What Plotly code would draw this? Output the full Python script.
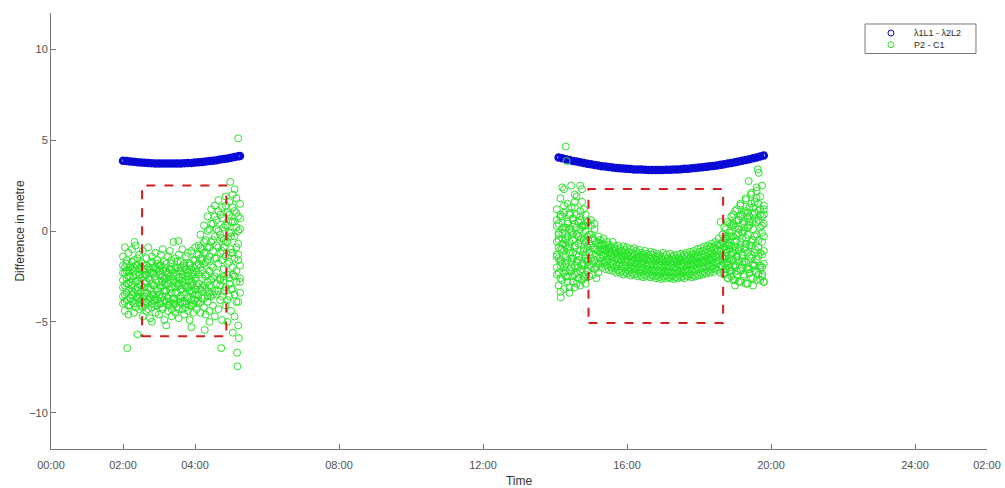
import plotly.graph_objects as go

# ---------------- data (hours since 00:00, metres) ----------------
TICK_VALS = [0, 2, 4, 8, 12, 16, 20, 24, 26]
TICK_TEXT = ["00:00", "02:00", "04:00", "08:00", "12:00", "16:00", "20:00", "24:00", "02:00"]
SERIES_NAMES = ["\u03bb1L1 - \u03bb2L2", "P2 - C1"]

# lambda1L1 - lambda2L2, first pass
BLUE_L_T = [2.0, 2.1, 2.2, 2.3, 2.4, 2.5, 2.6, 2.7, 2.8, 2.9, 3.0, 3.1, 3.2, 3.3, 3.4, 3.5, 3.6,
            3.7, 3.8, 3.9, 4.0, 4.1, 4.2, 4.3, 4.4, 4.5, 4.6, 4.7, 4.8, 4.9, 5.0, 5.1, 5.2, 5.25]
BLUE_L_V = [3.87, 3.85, 3.83, 3.81, 3.79, 3.77, 3.76, 3.74, 3.73, 3.72, 3.72, 3.71, 3.71, 3.71, 3.71,
            3.72, 3.72, 3.73, 3.74, 3.75, 3.77, 3.78, 3.80, 3.82, 3.85, 3.87, 3.90, 3.93, 3.96, 3.99,
            4.03, 4.07, 4.11, 4.13]
# second pass
BLUE_R_T = [14.1, 14.2, 14.3, 14.4, 14.5, 14.6, 14.7, 14.8, 14.9, 15.0, 15.1, 15.2, 15.3, 15.4, 15.5,
            15.6, 15.7, 15.8, 15.9, 16.0, 16.1, 16.2, 16.3, 16.4, 16.5, 16.6, 16.7, 16.8, 16.9, 17.0,
            17.1, 17.2, 17.3, 17.4, 17.5, 17.6, 17.7, 17.8, 17.9, 18.0, 18.1, 18.2, 18.3, 18.4, 18.5,
            18.6, 18.7, 18.8, 18.9, 19.0, 19.1, 19.2, 19.3, 19.4, 19.5, 19.6, 19.7, 19.8]
BLUE_R_V = [4.05, 4.00, 3.95, 3.91, 3.86, 3.82, 3.78, 3.74, 3.70, 3.67, 3.63, 3.60, 3.57, 3.55, 3.52,
            3.50, 3.47, 3.45, 3.44, 3.42, 3.41, 3.39, 3.38, 3.38, 3.37, 3.36, 3.36, 3.36, 3.36, 3.36,
            3.37, 3.37, 3.38, 3.39, 3.40, 3.42, 3.43, 3.45, 3.47, 3.49, 3.51, 3.53, 3.56, 3.58, 3.61,
            3.64, 3.68, 3.71, 3.75, 3.78, 3.82, 3.87, 3.91, 3.95, 4.00, 4.05, 4.10, 4.15]

# P2 - C1, first pass: sample times and value rows per time
GL_T = [2.00, 2.05, 2.10, 2.15, 2.20, 2.25, 2.30, 2.35, 2.40, 2.45,
        2.50, 2.55, 2.60, 2.65, 2.70, 2.75, 2.80, 2.85, 2.90, 2.95,
        3.00, 3.05, 3.10, 3.15, 3.20, 3.25, 3.30, 3.35, 3.40, 3.45,
        3.50, 3.55, 3.60, 3.65, 3.70, 3.75, 3.80, 3.85, 3.90, 3.95, 4.00, 4.05,
        4.10, 4.15, 4.20, 4.25, 4.30, 4.35, 4.40, 4.45, 4.50, 4.55,
        4.60, 4.65, 4.70, 4.75, 4.80, 4.85, 4.90, 4.95, 5.00, 5.05, 5.10, 5.15, 5.20, 5.25]
GL_A = [-1.4, -0.9, -1.8, -1.2, -2.0, -1.0, -1.6, -0.8, -1.9, -1.3,
        -1.7, -1.1, -2.1, -1.5, -0.9, -1.8, -1.4, -2.0, -1.2, -1.6,
        -1.9, -1.3, -1.0, -1.7, -2.2, -1.4, -1.1, -1.8, -0.6, -1.5,
        -2.0, -1.3, -1.7, -1.0, -1.9, -1.4, -1.2, -1.8, -1.1, -1.6, -0.9, -1.3,
        -0.8, -0.2, -1.0, 0.3, -0.5, 0.8, 0.1, 1.2, 0.4, 1.4,
        0.6, 1.7, 0.9, 1.3, 0.2, 1.9, 1.0, 1.6, 0.5, 2.0, 1.1, 1.8, 0.8, 1.5]
GL_F = [-1.9, -2.3, -1.6, -2.5, -2.0, -1.7, -2.2, -2.4, -1.5, -2.1,
        -2.0, -1.8, -2.4, -1.9, -2.6, -2.1, -1.7, -2.3, -2.0, -1.8,
        -2.2, -1.9, -2.5, -2.0, -1.8, -2.4, -2.1, -1.6, -2.3, -2.0,
        -1.7, -2.2, -2.0, -2.4, -1.8, -2.1, -2.3, -1.9, -2.5, -2.0, -1.6, -2.2,
        -1.3, -0.9, -1.6, -0.6, -1.2, 0.0, -0.9, 0.4, -0.5, 0.8,
        0.1, 1.1, -0.2, 0.7, -0.5, 1.4, 0.3, 0.9, -0.1, 1.3, 0.5, 1.0, 0.0, 0.7]
GL_B = [-2.3, -2.0, -2.6, -2.2, -2.8, -2.1, -2.5, -1.9, -2.7, -2.4,
        -2.6, -2.2, -2.9, -2.4, -2.0, -2.7, -2.3, -3.0, -2.5, -2.1,
        -2.8, -2.4, -2.2, -2.9, -2.6, -2.3, -2.7, -2.1, -2.5, -2.8,
        -2.4, -2.9, -2.2, -2.6, -2.0, -2.7, -2.5, -2.1, -2.8, -2.3, -2.6, -1.9,
        -1.8, -1.5, -2.2, -1.2, -1.7, -0.9, -1.4, -0.6, -1.1, -0.3,
        -0.8, 0.0, -1.2, -0.4, -0.9, 0.3, -0.6, -0.1, -1.0, 0.5, -0.3, 0.2, -0.7, 0.1]
GL_E = [-2.7, -3.0, -2.2, -2.9, -2.5, -3.3, -2.0, -2.8, -3.1, -2.4,
        -3.0, -2.5, -3.4, -2.8, -3.1, -2.3, -2.9, -3.5, -2.7, -3.2,
        -2.4, -3.0, -2.8, -2.6, -3.3, -2.9, -2.5, -3.1, -2.7, -3.4,
        -2.9, -2.6, -3.2, -2.8, -3.0, -2.5, -3.1, -2.7, -3.3, -2.9, -2.4, -3.0,
        -2.4, -2.0, -3.1, -1.8, -2.5, -1.6, -3.0, -1.9, -2.6, -1.5,
        -1.5, -0.9, -3.0, -1.1, -2.7, -0.6, -1.8, -2.9, -0.3, -1.2, -2.5, -0.9, -1.6, -2.8]
GL_C = [-3.1, -3.5, -2.9, -3.3, -3.7, -3.0, -3.4, -3.2, -3.6, -2.9,
        -3.3, -3.6, -3.1, -3.4, -3.8, -3.2, -3.5, -3.0, -3.7, -3.3,
        -3.5, -3.1, -3.6, -3.3, -3.0, -3.7, -3.2, -3.4, -3.8, -3.1,
        -3.4, -3.0, -3.6, -3.2, -3.5, -3.1, -3.7, -3.3, -3.0, -3.4, -3.2, -3.5,
        -2.9, -3.2, -2.6, -3.0, -2.4, -2.8, -2.2, -2.7, -2.0, -2.5,
        -2.3, -1.8, -2.6, -1.6, -2.1, -1.4, -2.4, -1.7, -1.2, -2.0, -1.5, -2.2, -1.3, -1.9]
GL_G = [-3.6, -3.9, -3.4, -4.1, -3.7, -3.5, -4.0, -3.8, -3.3, -3.7,
        -3.8, -4.2, -3.6, -3.9, -4.3, -3.7, -4.0, -3.6, -4.1, -3.8,
        -4.0, -3.7, -4.2, -3.8, -3.6, -4.1, -3.9, -4.3, -3.7, -4.0,
        -3.8, -4.3, -3.7, -4.0, -3.9, -4.2, -3.6, -4.1, -3.8, -4.0, -3.5, -3.9,
        -3.5, -3.9, -3.3, -3.7, -3.2, -3.6, -3.4, -3.1, -3.5, -3.3,
        -2.9, -3.3, -2.7, -3.6, -2.5, -3.1, -3.8, -2.6, -3.2, -2.4, -3.5, -2.8, -3.9, -2.6]
GL_D = [-4.0, -4.4, -3.8, -4.6, -4.1, -3.9, -4.5, -4.2, -3.7, -4.3,
        -4.1, -4.7, -3.9, -4.4, -4.0, -4.8, -4.2, -3.8, -4.5, -4.1,
        -4.6, -4.0, -4.3, -4.9, -3.9, -4.4, -4.1, -4.7, -4.0, -4.5,
        -4.2, -4.8, -3.9, -4.3, -4.6, -4.0, -4.4, -4.9, -4.1, -4.5, -3.8, -4.3,
        -4.0, -4.5, -3.7, -4.2, -4.6, -3.9, -4.4, -3.6, -4.1, -4.7,
        -3.5, -4.3, -3.8, -4.9, -3.3, -4.1, -5.0, -3.6, -4.4, -3.2, -4.7, -3.9, -5.2, -3.4]
GL_OUT_T = [2.12, 2.40, 2.32, 3.54, 4.27, 4.73, 4.98, 5.20, 5.17, 5.18, 3.20, 2.80, 3.90, 5.05, 5.22, 5.10, 4.40]
GL_OUT_V = [-6.45, -5.70, -0.60, -0.55, -5.45, -6.45, 2.70, 5.10, -6.70, -7.45, -5.20, -5.00, -5.30, -5.60, -5.90, 2.30, -5.00]

# P2 - C1, second pass
GR_T = [14.05, 14.10, 14.15, 14.20, 14.25, 14.30, 14.35, 14.40, 14.45, 14.50,
        14.55, 14.60, 14.65, 14.70, 14.75, 14.80, 14.85,
        14.90, 14.95, 15.00, 15.05, 15.10, 15.15, 15.20,
        15.25, 15.30, 15.35, 15.40, 15.45, 15.50, 15.55, 15.60, 15.65, 15.70,
        15.75, 15.80, 15.85, 15.90, 15.95, 16.00, 16.05, 16.10, 16.15, 16.20,
        16.25, 16.30, 16.35, 16.40, 16.45, 16.50, 16.55, 16.60, 16.65, 16.70,
        16.75, 16.80, 16.85, 16.90, 16.95, 17.00, 17.05, 17.10, 17.15, 17.20,
        17.25, 17.30, 17.35, 17.40, 17.45, 17.50, 17.55, 17.60, 17.65, 17.70,
        17.75, 17.80, 17.85, 17.90, 17.95, 18.00, 18.05, 18.10, 18.15, 18.20,
        18.25, 18.30, 18.35, 18.40, 18.45, 18.50,
        18.55, 18.60, 18.65, 18.70, 18.75, 18.80, 18.85,
        18.90, 18.95, 19.00, 19.05, 19.10, 19.15, 19.20, 19.25, 19.30, 19.35,
        19.40, 19.45, 19.50, 19.55, 19.60, 19.65, 19.70, 19.75, 19.80]
GR_UP = [1.2, 0.4, 1.8, 0.8, 2.3, 0.2, 1.5, 0.9, 2.5, 0.6, 1.3, 1.9, 0.5, 1.1, 1.6, 0.3, 0.9,
         0.5, -0.2, 0.3, -0.4, 0.1, -0.6, -0.3,
         -0.5, -0.7, -0.4, -0.8, -0.6, -0.75, -0.9, -0.6, -0.85, -1.0,
         -0.8, -0.95, -1.1, -0.85, -1.05, -0.9, -1.15, -1.0, -1.2, -0.95,
         -1.1, -1.25, -1.05, -1.2, -1.3, -1.1, -1.25, -1.35, -1.15, -1.3,
         -1.2, -1.4, -1.25, -1.35, -1.45, -1.2, -1.4, -1.3, -1.5, -1.25,
         -1.4, -1.35, -1.5, -1.3, -1.45, -1.25, -1.4, -1.3, -1.2, -1.35,
         -1.15, -1.3, -1.1, -1.25, -1.0, -1.15, -0.95, -1.1, -0.85, -1.0,
         -0.8, -0.9, -0.7, -0.85, -0.6, -0.75,
         -0.4, -0.7, -0.2, -0.5, 0.1, -0.3, 0.4,
         0.3, 0.9, 0.2, 1.2, 0.6, 1.5, 0.4, 1.0, 1.8, 0.7, 1.3, 2.1, 0.9, 1.6, 2.4, 1.1, 1.9, 0.8, 1.4]
GR_M2 = [0.3, -0.5, 0.8, -0.1, 1.0, -0.4, 0.5, 0.1, 1.3, -0.2, 0.4, 0.9, -0.3, 0.6, 0.2, -0.5, 0.3,
         -0.3, -0.7, -0.2, -0.9, -0.5, -1.0, -0.7,
         -0.8, -1.0, -0.75, -1.05, -0.95, -1.0, -1.15, -1.05, -1.1, -1.25,
         -1.2, -1.15, -1.35, -1.2, -1.4, -1.25, -1.4, -1.35, -1.45, -1.3,
         -1.5, -1.45, -1.4, -1.55, -1.5, -1.45, -1.6, -1.5, -1.55, -1.65,
         -1.55, -1.65, -1.6, -1.55, -1.7, -1.6, -1.7, -1.65, -1.6, -1.75,
         -1.65, -1.7, -1.6, -1.75, -1.65, -1.6, -1.7, -1.55, -1.65, -1.6,
         -1.5, -1.6, -1.45, -1.55, -1.4, -1.5, -1.35, -1.45, -1.3, -1.4,
         -1.2, -1.3, -1.1, -1.25, -1.0, -1.1,
         -0.8, -1.1, -0.6, -0.9, -0.4, -0.8, -0.3,
         -0.3, 0.4, -0.6, 0.6, 0.1, 0.8, -0.1, 0.5, 1.1, 0.2, 0.8, 1.5, 0.5, 1.0, 1.8, 0.6, 1.2, 0.3, 0.9]
GR_MID = [-0.6, -0.1, -1.0, -0.4, 0.2, -0.8, -0.3, -1.2, 0.0, -0.5, -0.9, -0.2, -0.7, 0.1, -0.4, -1.1, -0.6,
          -0.9, -1.2, -0.8, -1.3, -1.0, -1.4, -1.1,
          -1.1, -1.3, -1.05, -1.25, -1.4, -1.2, -1.35, -1.5, -1.3, -1.45,
          -1.55, -1.4, -1.6, -1.5, -1.7, -1.55, -1.65, -1.75, -1.6, -1.7,
          -1.8, -1.65, -1.75, -1.85, -1.7, -1.8, -1.9, -1.75, -1.85, -1.8,
          -1.9, -1.8, -1.95, -1.85, -1.9, -2.0, -1.85, -1.95, -1.9, -2.0,
          -1.9, -2.0, -1.95, -1.85, -2.0, -1.9, -1.95, -1.8, -1.9, -1.85,
          -1.8, -1.9, -1.75, -1.85, -1.7, -1.8, -1.65, -1.75, -1.6, -1.7,
          -1.5, -1.6, -1.45, -1.55, -1.35, -1.45,
          -1.3, -1.0, -1.4, -0.9, -1.2, -0.7, -1.0,
          -0.8, -0.3, -1.1, -0.5, -0.1, -0.9, -0.4, 0.0, -0.7, -0.2, 0.3, -0.6, 0.1, -0.3, 0.5, -0.5, 0.2, -0.1, 0.4]
GR_M3 = [-1.4, -2.3, -1.7, -1.0, -2.0, -2.5, -1.6, -0.9, -2.2, -1.5, -2.4, -1.3, -2.0, -1.1, -1.8, -2.6, -1.5,
         -1.7, -1.9, -1.5, -1.8, -1.6, -2.0, -1.8,
         -1.5, -1.65, -1.4, -1.7, -1.6, -1.55, -1.75, -1.85, -1.65, -1.9,
         -1.85, -1.75, -1.95, -1.85, -2.0, -1.9, -2.05, -2.0, -1.95, -2.1,
         -2.1, -2.0, -2.15, -2.1, -2.05, -2.2, -2.15, -2.1, -2.25, -2.15,
         -2.2, -2.25, -2.15, -2.3, -2.2, -2.3, -2.25, -2.2, -2.3, -2.25,
         -2.25, -2.35, -2.2, -2.3, -2.25, -2.2, -2.3, -2.15, -2.25, -2.2,
         -2.1, -2.2, -2.05, -2.15, -2.0, -2.1, -1.95, -2.05, -1.9, -2.0,
         -1.85, -1.95, -1.75, -1.9, -1.7, -1.8,
         -1.6, -1.9, -1.5, -1.8, -1.4, -1.9, -1.5,
         -1.6, -1.2, -2.0, -1.4, -1.0, -2.2, -1.3, -1.7, -0.9, -2.1, -1.4, -0.8, -1.9, -1.2, -1.6, -0.9, -2.0, -1.3, -1.1]
GR_LOW = [-2.0, -1.5, -2.6, -1.8, -2.3, -1.4, -2.8, -2.1, -1.7, -2.5, -1.9, -2.9, -1.6, -2.2, -2.7, -1.8, -2.4,
          -2.2, -2.5, -2.0, -2.4, -2.1, -2.6, -2.3,
          -1.8, -2.0, -1.75, -2.1, -1.9, -2.15, -2.0, -2.2, -2.05, -2.3,
          -2.15, -2.3, -2.2, -2.4, -2.25, -2.35, -2.2, -2.45, -2.3, -2.4,
          -2.35, -2.5, -2.3, -2.45, -2.55, -2.4, -2.5, -2.35, -2.55, -2.45,
          -2.5, -2.6, -2.45, -2.55, -2.65, -2.5, -2.6, -2.45, -2.55, -2.6,
          -2.5, -2.65, -2.55, -2.6, -2.45, -2.55, -2.5, -2.6, -2.45, -2.5,
          -2.4, -2.55, -2.45, -2.5, -2.35, -2.45, -2.3, -2.4, -2.25, -2.35,
          -2.2, -2.3, -2.1, -2.25, -2.05, -2.15,
          -2.0, -2.3, -1.9, -2.4, -2.1, -2.6, -2.2,
          -2.5, -1.9, -2.7, -2.2, -1.6, -2.8, -2.0, -2.4, -1.7, -2.9, -2.1, -1.5, -2.6, -1.9, -2.3, -1.4, -2.7, -2.0, -1.8]
# wide start of second pass
GRE_L_T = [14.05, 14.10, 14.15, 14.20, 14.25, 14.30, 14.35, 14.40, 14.45,
           14.50, 14.55, 14.60, 14.65, 14.70, 14.75, 14.80, 14.85, 14.90]
GRE_L_1 = [0.6, -0.2, 0.9, 0.1, 1.4, -0.5, 0.4, 1.0, -0.1, 0.7, 1.6, 0.2, -0.3, 0.8, 0.3, 1.2, 0.0, 0.5]
GRE_L_2 = [-1.3, -0.9, -1.6, -0.7, -1.1, -1.8, -1.0, -0.6, -1.5, -1.2, -0.8, -1.7, -1.4, -0.5, -1.9, -1.0, -1.3, -1.6]
GRE_L_3 = [-2.4, -3.0, -1.9, -2.7, -3.2, -2.2, -2.5, -3.4, -2.0, -2.8, -3.1, -2.3, -2.6, -3.0, -2.1, -2.5, -2.9, -2.2]
# wide end of second pass
GRE_R_T = [18.70, 18.75, 18.80, 18.85, 18.90, 18.95, 19.00, 19.05, 19.10, 19.15, 19.20, 19.25,
           19.30, 19.35, 19.40, 19.45, 19.50, 19.55, 19.60, 19.65, 19.70, 19.75, 19.80]
GRE_R_1 = [0.2, -0.4, 0.5, -0.1, 0.8, 0.3, 1.1, -0.2, 0.6, 1.4, 0.9, 0.2, 1.7, 1.0, 0.5, 2.0, 1.3, 0.7, 2.2, 1.5, 0.9, 2.5, 1.2]
GRE_R_2 = [-1.5, -1.0, -1.7, -0.8, -1.3, -1.6, -0.9, -1.4, -1.1, -0.6, -1.5, -1.0, -0.4, -1.2, -0.8, -1.3, -0.5, -1.0, -0.2, -0.9, -1.2, -0.6, -0.3]
GRE_R_3 = [-2.3, -1.8, -2.6, -2.0, -2.2, -2.7, -1.9, -2.4, -2.8, -2.1, -1.7, -2.5, -2.9, -2.0, -2.3, -2.6, -1.8, -2.2, -2.7, -2.4, -1.9, -2.5, -2.8]
GR_OUT_T = [14.30, 14.32, 14.15, 14.16, 14.70, 14.75, 14.20, 14.40, 19.63, 19.66, 19.38, 19.80, 19.76, 19.50, 14.55, 15.00, 15.10, 18.60, 19.00]
GR_OUT_V = [4.65, 3.85, -3.35, -3.65, 2.50, 2.30, 2.40, -3.10, 3.40, 3.20, 2.75, -2.80, -2.40, -3.00, 2.00, 0.60, 0.40, 0.50, -3.00]

# highlighted windows (dashed boxes)
BOX_T0 = [2.53, 14.93]
BOX_T1 = [4.87, 18.67]
BOX_V0 = [-5.80, -5.07]
BOX_V1 = [2.50, 2.31]

# ---------------- assemble ----------------
blue_t = BLUE_L_T + BLUE_R_T
blue_v = BLUE_L_V + BLUE_R_V

green_t, green_v = [], []
for row in (GL_A, GL_F, GL_B, GL_E, GL_C, GL_G, GL_D):
    green_t += GL_T
    green_v += row
green_t += GL_OUT_T
green_v += GL_OUT_V
for row in (GR_UP, GR_M2, GR_MID, GR_M3, GR_LOW):
    green_t += GR_T
    green_v += row
for row in (GRE_L_1, GRE_L_2, GRE_L_3):
    green_t += GRE_L_T
    green_v += row
for row in (GRE_R_1, GRE_R_2, GRE_R_3):
    green_t += GRE_R_T
    green_v += row
green_t += GR_OUT_T
green_v += GR_OUT_V

FONT = "Liberation Sans, Arial, sans-serif"
AXIS_COL = "rgb(120,120,120)"
TEXT_COL = "rgb(80,80,80)"
BLUE = "rgb(10,10,215)"
GREEN = "rgb(40,228,40)"

fig = go.Figure()
fig.add_trace(go.Scatter(
    x=blue_t, y=blue_v, mode="markers", name=SERIES_NAMES[0], showlegend=False,
    marker=dict(symbol="circle-open", size=5.5, color=BLUE, line=dict(width=3, color=BLUE)),
))
fig.add_trace(go.Scatter(
    x=green_t, y=green_v, mode="markers", name=SERIES_NAMES[1], showlegend=False,
    marker=dict(symbol="circle-open", size=7, color=GREEN, line=dict(width=1, color=GREEN)),
))

for t0, t1, v0, v1 in zip(BOX_T0, BOX_T1, BOX_V0, BOX_V1):
    fig.add_shape(type="rect", xref="x", yref="y", x0=t0, x1=t1, y0=v0, y1=v1,
                  line=dict(color="rgb(215,30,30)", width=2, dash="dash"), fillcolor="rgba(0,0,0,0)")

# compact MATLAB-style legend box (paper coordinates)
LEG_X0, LEG_X1, LEG_Y0, LEG_Y1 = 0.8697, 0.9882, 0.9071, 0.9748
LEG_MARK_X, LEG_TEXT_X, LEG_TEXT_Y = 0.8974, 0.9209, 0.9407
LEG_ROW_Y = [0.9541, 0.9273]
fig.add_shape(type="rect", xref="paper", yref="paper", x0=LEG_X0, x1=LEG_X1, y0=LEG_Y0, y1=LEG_Y1,
              line=dict(color="rgb(120,120,120)", width=1), fillcolor="white", layer="above")
for col, yy in zip([BLUE, GREEN], LEG_ROW_Y):
    fig.add_shape(type="circle", xref="paper", yref="paper", xsizemode="pixel", ysizemode="pixel",
                  xanchor=LEG_MARK_X, yanchor=yy, x0=-3, x1=3, y0=-3, y1=3,
                  line=dict(color=col, width=1), layer="above")
fig.add_annotation(x=LEG_TEXT_X, y=LEG_TEXT_Y, xref="paper", yref="paper",
                   text="<br>".join(SERIES_NAMES), showarrow=False, align="left",
                   xanchor="left", yanchor="middle", borderpad=0,
                   font=dict(size=9, color="rgb(40,40,40)"))

fig.update_layout(
    width=1005, height=488,
    margin=dict(l=51, r=18, t=13, b=39),
    paper_bgcolor="white", plot_bgcolor="white",
    font=dict(family=FONT, size=11, color=TEXT_COL),
    showlegend=False,
)
fig.update_xaxes(range=[0, 26], tickvals=TICK_VALS, ticktext=TICK_TEXT, automargin=False,
                 ticks="inside", ticklen=5, tickcolor=AXIS_COL, showline=True, linecolor=AXIS_COL,
                 linewidth=1, showgrid=False, zeroline=False, ticklabelstandoff=6,
                 tickfont=dict(size=11, color=TEXT_COL),
                 title=dict(text="Time", font=dict(size=12, color="rgb(50,50,50)"), standoff=6))
fig.update_yaxes(range=[-12, 12], tickvals=[-10, -5, 0, 5, 10], automargin=False,
                 ticks="inside", ticklen=5, tickcolor=AXIS_COL, showline=True, linecolor=AXIS_COL,
                 linewidth=1, showgrid=False, zeroline=False,
                 tickfont=dict(size=11, color=TEXT_COL),
                 title=dict(text="Difference in metre", font=dict(size=12, color="rgb(50,50,50)"), standoff=1))

fig.write_html("out.html")
